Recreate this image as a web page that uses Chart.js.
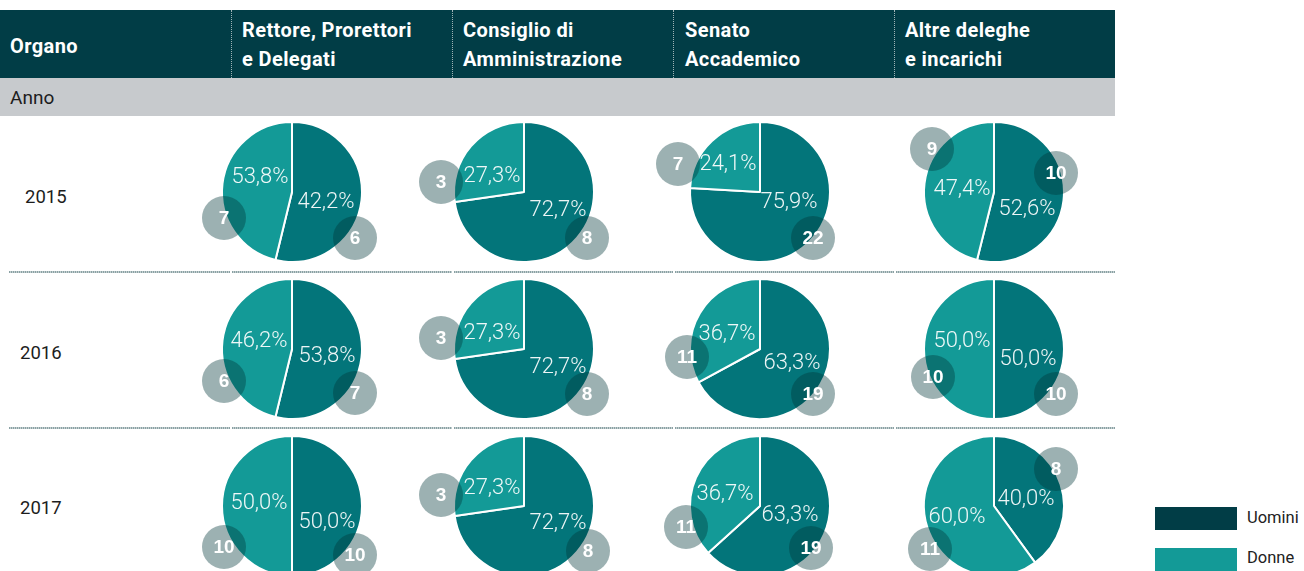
<!DOCTYPE html>
<html>
<head>
<meta charset="utf-8">
<script src="https://cdn.jsdelivr.net/npm/chart.js@4"></script>
<style>
  body { margin: 0; width: 1304px; height: 571px; overflow: hidden; background: #fff; position: relative; font-family: Roboto, sans-serif; }
  .abs { position: absolute; }
  #testa { left: 0; top: 10px; width: 1115px; height: 68px; background: #013d46; }
  .th { position: absolute; color: #fff; font-weight: 700; font-size: 20px; letter-spacing: 0.4px; line-height: 29px; white-space: nowrap; }
  .vsep { position: absolute; top: 0; width: 0; height: 68px; border-left: 1px dotted #9fb4b7; }
  #fascia { left: 0; top: 78px; width: 1115px; height: 38px; background: #c7cacd; }
  #fascia span { position: absolute; left: 10px; top: 8px; font-size: 19px; color: #1d1d1d; }
  .anno { position: absolute; font-size: 18.5px; color: #1d1d1d; }
  .riga { position: absolute; height: 2px; background: repeating-linear-gradient(90deg, #8aa1a4 0 1px, #c3cfd0 1px 2px); }
  canvas { position: absolute; }
  .box { position: absolute; left: 1155px; width: 82px; height: 23px; }
  .leg { position: absolute; left: 1247px; font-size: 16.5px; color: #222; }
</style>
</head>
<body>
<div id="testa" class="abs"></div>
<div id="fascia" class="abs"><span>Anno</span></div>
<div id="corpo"></div>

<script>
// intestazioni
const organi = [
  ['Rettore, Prorettori', 'e Delegati'],
  ['Consiglio di', 'Amministrazione'],
  ['Senato', 'Accademico'],
  ['Altre deleghe', 'e incarichi']
];
const anni = ['2015', '2016', '2017'];
const serie = ['Uomini', 'Donne'];

// ampiezza delle fette come disegnate (%), per anno e organo
const uominiFetta = [
  [53.8, 72.7, 75.9, 53.9],
  [53.8, 72.7, 67.1, 50.0],
  [50.0, 72.7, 63.3, 40.0]
];
const donneFetta = [
  [46.2, 27.3, 24.1, 46.1],
  [46.2, 27.3, 32.9, 50.0],
  [50.0, 27.3, 36.7, 60.0]
];

// percentuali stampate
const uominiPct = [
  [42.2, 72.7, 75.9, 52.6],
  [53.8, 72.7, 63.3, 50.0],
  [50.0, 72.7, 63.3, 40.0]
];
const donnePct = [
  [53.8, 27.3, 24.1, 47.4],
  [46.2, 27.3, 36.7, 50.0],
  [50.0, 27.3, 36.7, 60.0]
];

// numero di persone
const uominiN = [
  [6, 8, 22, 10],
  [7, 8, 19, 10],
  [10, 8, 19, 8]
];
const donneN = [
  [7, 3, 7, 9],
  [6, 3, 11, 10],
  [10, 3, 11, 11]
];

const COLORI = { uomini: '#03757a', donne: '#139a97', legUomini: '#013d46' };

// layout: centri delle torte e posizioni delle etichette rispetto al centro
const colX = [292, 524, 760, 994];
const rowY = [192, 349, 506];
const posPctU = [
  [[34, 10], [34, 18], [29, 10], [33, 17]],
  [[35, 7], [34, 18], [32, 14], [34, 10]],
  [[35, 16], [34, 17], [30, 9], [32, -7]]
];
const posPctD = [
  [[-32, -15], [-32, -16], [-32, -28], [-32, -3]],
  [[-33, -8], [-32, -16], [-33, -15], [-32, -8]],
  [[-33, -3], [-32, -18], [-35, -12], [-37, 11]]
];
const posBollaU = [
  [[63, 46], [63, 46], [53, 46], [62, -19]],
  [[63, 44], [63, 45], [53, 45], [62, 45]],
  [[63, 49], [64, 45], [51, 42], [62, -37]]
];
const posBollaD = [
  [[-68, 26], [-83, -10], [-82, -28], [-62, -43]],
  [[-68, 32], [-83, -11], [-73, 8], [-61, 28]],
  [[-68, 41], [-83, -11], [-74, 21], [-64, 43]]
];

const fmt = v => v.toFixed(1).replace('.', ',') + '%';

// --- tabella (html) ---
const testa = document.getElementById('testa');
const colTesto = [242, 463, 685, 905];
const colSep = [231, 452, 673, 894];
testa.innerHTML += '<div class="th" style="left:10px;top:22px">Organo</div>';
organi.forEach((o, i) => {
  testa.innerHTML += `<div class="th" style="left:${colTesto[i]}px;top:6px">${o[0]}<br>${o[1]}</div>`;
  testa.innerHTML += `<div class="vsep" style="left:${colSep[i]}px"></div>`;
});

const corpo = document.getElementById('corpo');
const annoX = [25, 20, 20];
const annoY = [186, 342, 497];
anni.forEach((a, i) => {
  corpo.innerHTML += `<div class="anno" style="left:${annoX[i]}px;top:${annoY[i]}px">${a}</div>`;
});
const segmenti = [[9, 230], [232, 452], [454, 673], [675, 894], [896, 1115]];
[271, 427].forEach(y => {
  segmenti.forEach(s => {
    corpo.innerHTML += `<div class="riga" style="left:${s[0]}px;top:${y}px;width:${s[1] - s[0]}px"></div>`;
  });
});
corpo.innerHTML += `<div class="box" style="top:507px;background:${COLORI.legUomini}"></div>`;
corpo.innerHTML += `<div class="leg" style="top:508px">${serie[0]}</div>`;
corpo.innerHTML += `<div class="box" style="top:548px;background:${COLORI.donne}"></div>`;
corpo.innerHTML += `<div class="leg" style="top:548px">${serie[1]}</div>`;

// --- torte ---
const W = 300, H = 190;

function etichette(r, c) {
  return {
    id: 'etichette',
    afterDatasetsDraw(chart) {
      const arc = chart.getDatasetMeta(0).data[0];
      const ctx = chart.ctx;
      const cx = arc.x, cy = arc.y;
      const bolle = [
        { p: posBollaD[r][c], n: donneN[r][c] },
        { p: posBollaU[r][c], n: uominiN[r][c] }
      ];
      ctx.save();
      bolle.forEach(b => {
        ctx.beginPath();
        ctx.arc(cx + b.p[0], cy + b.p[1], 22, 0, Math.PI * 2);
        ctx.fillStyle = 'rgba(0, 54, 57, 0.39)';
        ctx.fill();
      });
      ctx.textAlign = 'center';
      ctx.textBaseline = 'middle';
      ctx.font = '300 22px Roboto';
      ctx.fillStyle = 'rgba(255, 255, 255, 0.93)';
      ctx.fillText(fmt(donnePct[r][c]), cx + posPctD[r][c][0], cy + posPctD[r][c][1]);
      ctx.fillText(fmt(uominiPct[r][c]), cx + posPctU[r][c][0], cy + posPctU[r][c][1]);
      ctx.font = 'bold 19px "Liberation Sans", Arial, sans-serif';
      ctx.fillStyle = '#fff';
      bolle.forEach(b => ctx.fillText(String(b.n), cx + b.p[0], cy + b.p[1] + 1));
      ctx.restore();
    }
  };
}

anni.forEach((a, r) => {
  organi.forEach((o, c) => {
    const cv = document.createElement('canvas');
    cv.width = W;
    cv.height = H;
    cv.style.left = (colX[c] - W / 2) + 'px';
    cv.style.top = (rowY[r] - H / 2) + 'px';
    document.body.appendChild(cv);

    new Chart(cv, {
      type: 'pie',
      data: {
        labels: serie,
        datasets: [{
          data: [uominiFetta[r][c], donneFetta[r][c]],
          backgroundColor: [COLORI.uomini, COLORI.donne],
          borderColor: '#fff',
          borderWidth: 2,
          radius: 70
        }]
      },
      options: {
        responsive: false,
        animation: false,
        events: [],
        layout: { padding: 0 },
        plugins: {
          legend: { display: false },
          tooltip: { enabled: false }
        }
      },
      plugins: [etichette(r, c)]
    });
  });
});
</script>
</body>
</html>
